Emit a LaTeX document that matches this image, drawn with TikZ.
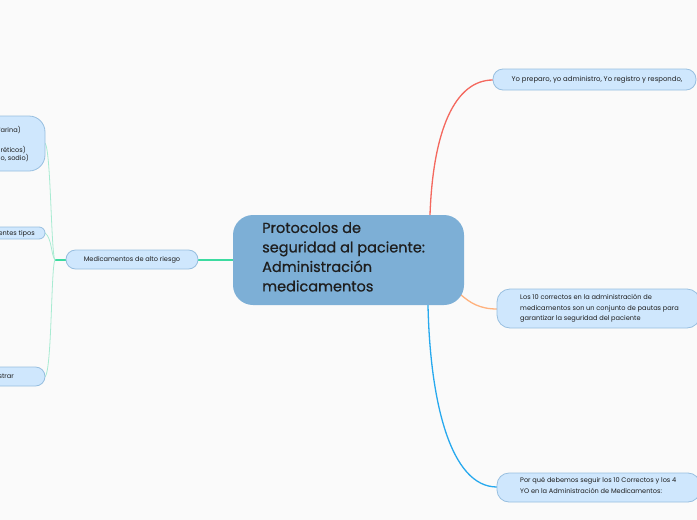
\documentclass[tikz,border=0pt]{standalone}
\usepackage{fontspec}
\setmainfont{Poppins}
\newfontfamily\titlefont[FakeBold=0.6]{Poppins}
\definecolor{bg}{HTML}{FAFAFA}
\definecolor{mainfill}{HTML}{7DAFD6}
\definecolor{subfill}{HTML}{CFE7FD}
\definecolor{subdraw}{HTML}{98BFE0}
\definecolor{cred}{HTML}{F4685E}
\definecolor{corange}{HTML}{FFB27E}
\definecolor{cblue}{HTML}{27A9EE}
\definecolor{cgreen}{HTML}{3CDBA0}
\definecolor{cgreenl}{HTML}{A8EBD2}
\definecolor{txt}{HTML}{1E1E1E}
\tikzset{
  subbox/.style={draw=subdraw, fill=subfill, line width=0.8pt, inner sep=0pt},
  small/.style={font=\fontsize{6.6}{10.4}\selectfont, text=txt},
  conn/.style={line width=1.3pt},
}
\begin{document}
\begin{tikzpicture}[x=1pt,y=-1pt]
\fill[bg] (0,0) rectangle (697,520);
\useasboundingbox (0,0) rectangle (697,520);
\clip (0,0) rectangle (697,520);
% coordinates
\coordinate (rtop) at (430,215);
\coordinate (rbot) at (428,305);
\coordinate (rright) at (460,294);
\coordinate (jn) at (55,260);
\coordinate (mleft) at (236,260);
\coordinate (medr) at (197,260);
% connectors
\draw[cred,conn] (rtop) .. controls (433,130) and (455,80) .. (493,80);
\draw[corange,conn] (rright) .. controls (470,303) and (480,309) .. (497,309);
\draw[cblue,conn] (rbot) .. controls (430,400) and (450,487) .. (497,487);
\draw[cgreen,line width=1.6pt] (mleft) -- (medr);
\draw[cgreen,line width=1.6pt] (67,260) -- (jn);
\draw[cgreenl,line width=0.8pt] (jn) .. controls (51,255) and (51,150) .. (45,143);
\draw[cgreenl,line width=0.8pt] (jn) .. controls (51,255) and (52,238) .. (45,233);
\draw[cgreenl,line width=0.8pt] (jn) .. controls (51,265) and (52,370) .. (45,377);
% central node
\fill[mainfill, rounded corners=20pt] (233,215) rectangle (464,305);
\node[anchor=north west, align=left, text=txt, inner sep=0pt,
  font=\titlefont\fontsize{14.5}{19.5}\selectfont] (main) at (262,222)
  {Protocolos de\\seguridad al paciente:\\Administración\\medicamentos};
% right nodes
\draw[subbox, rounded corners=10pt] (493,69) rectangle (696,90);
\node[small, font=\fontsize{6.9}{10.4}\selectfont] (r1) at (597,79.5) {Yo preparo, yo administro, Yo registro y respondo,};
\draw[subbox, rounded corners=13pt] (497,289) rectangle (700,328);
\node[small, anchor=north west, align=left, inner sep=0pt] (r2) at (520,294.5)
  {Los 10 correctos en la administración de\\medicamentos son un conjunto de pautas para\\garantizar la seguridad del paciente};
\draw[subbox, rounded corners=12pt] (497,473) rectangle (700,502);
\node[small, anchor=north west, align=left, inner sep=0pt] (r3) at (520,477.5)
  {Por qué debemos seguir los 10 Correctos y los 4\\YO en la Administración de Medicamentos:};
% medicamentos node
\draw[subbox, rounded corners=9.5pt] (66,250) rectangle (198,269);
\node[small] (med) at (132,259.5) {Medicamentos de alto riesgo};
% left clipped nodes
\draw[subbox, rounded corners=16pt] (-150,116) rectangle (45,171);
\node[small, anchor=base east, inner sep=0pt] (la1) at (21,132) {(warfarina)};
\node[small, anchor=base east, inner sep=0pt] (la2) at (26,152) {(diuréticos)};
\node[small, anchor=base east, inner sep=0pt] (la3) at (29,160.5) {(potasio, sodio)};
\draw[subbox, rounded corners=6pt] (-150,227) rectangle (45,239);
\node[small, anchor=base east, inner sep=0pt] (lb) at (35,235.5) {diferentes tipos};
\draw[subbox, rounded corners=9.5pt] (-150,367) rectangle (45,386);
\node[small, anchor=base east, inner sep=0pt] (lc) at (14,378.5) {administrar};
\end{tikzpicture}
\end{document}
